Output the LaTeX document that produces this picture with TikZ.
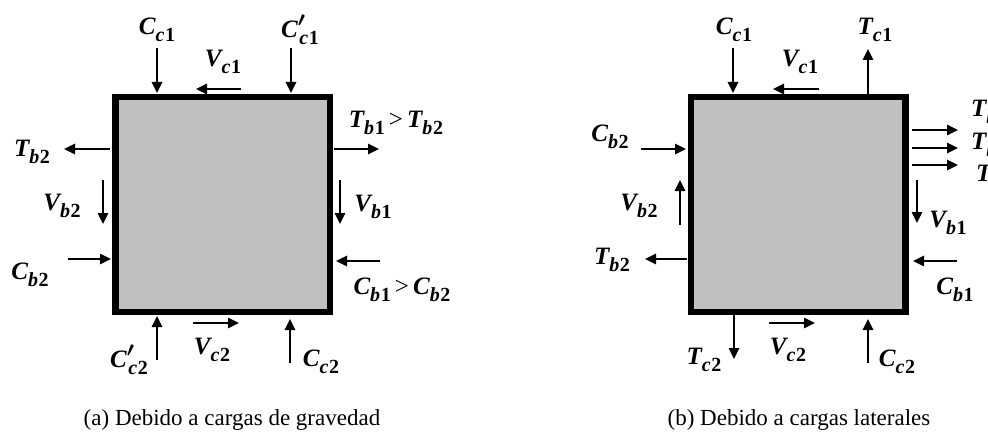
\documentclass[tikz,border=0pt]{standalone}
\usepackage{fontspec}
\setmainfont{Liberation Serif}
\usetikzlibrary{arrows.meta}
\usepackage{amsmath}
\definecolor{boxgray}{HTML}{C0C0C0}
\newcommand\subsz{\fontsize{20}{20}\selectfont}
\newcommand\lbl[3]{\textbf{\textit{#1}}\raisebox{-0.3em}{\subsz\textbf{\textit{#2}\kern0.03em{\upshape #3}}}}
\newcommand\lblp[3]{\textbf{\textit{#1}}\raisebox{0.42em}{\subsz$\boldsymbol{\prime}$}\kern-0.22em\raisebox{-0.3em}{\subsz\textbf{\textit{#2}\kern0.03em{\upshape #3}}}}
\newcommand\gt{\,{\normalfont\fontsize{25}{25}\selectfont >}\,}
\newcommand\force[3]{\coordinate (#1s) at (#2); \coordinate (#1e) at (#3); \draw[forcearrow] (#1s) -- (#1e);}
\tikzset{
  forcearrow/.style={-{Triangle[length=11pt,width=10pt]}, line width=2.5pt, black},
  panel/.style={draw=black, fill=boxgray, line width=6.5pt, minimum width=214.5pt, minimum height=214.5pt, inner sep=0pt},
  lab/.style={inner sep=0pt, font=\fontsize{25}{25}\selectfont\bfseries\itshape},
  captext/.style={inner sep=0pt, font=\fontsize{23}{23}\selectfont},
}
\begin{document}
\begin{tikzpicture}[x=1pt,y=-1pt]
\useasboundingbox (0,0) rectangle (988,433);
\clip (0,0) rectangle (988,433);
\fill[white] (0,0) rectangle (988,433);
% ---------- panel (a) ----------
\node[panel] (boxA) at (222.5,204.5) {};
\node[lab] (aCc1) at (157,30) {\lbl{C}{c}{1}};
\force{aCc1}{157,48}{157,93}
\node[lab] (aCpc1) at (300,30) {\lblp{C}{c}{1}};
\force{aCpc1}{291,48}{291,93}
\node[lab] (aVc1) at (223,62) {\lbl{V}{c}{1}};
\force{aVc1}{241,89}{196,89}
\node[lab] (aTb1) at (396,123) {\lbl{T}{b}{1}\gt\lbl{T}{b}{2}};
\force{aTb1}{334,149}{379,149}
\node[lab] (aTb2) at (32,152) {\lbl{T}{b}{2}};
\force{aTb2}{110,149}{64,149}
\node[lab] (aVb2) at (62,206) {\lbl{V}{b}{2}};
\force{aVb2}{103,180}{103,224}
\node[lab] (aVb1) at (373,207) {\lbl{V}{b}{1}};
\force{aVb1}{340,180}{340,224}
\node[lab] (aCb2) at (30,275) {\lbl{C}{b}{2}};
\force{aCb2}{68,259}{111,259}
\node[lab] (aCb1) at (402,290) {\lbl{C}{b}{1}\gt\lbl{C}{b}{2}};
\force{aCb1}{380,261}{336,261}
\node[lab] (aCpc2) at (129,360) {\lblp{C}{c}{2}};
\force{aCpc2}{157,360}{157,316}
\node[lab] (aVc2) at (212,350) {\lbl{V}{c}{2}};
\force{aVc2}{193,323}{239,323}
\node[lab] (aCc2) at (321,362) {\lbl{C}{c}{2}};
\force{aCc2}{290,363}{290,319}
\node[captext] (capA) at (232,420) {(a) Debido a cargas de gravedad};
% ---------- panel (b) ----------
\node[panel] (boxB) at (798,204.5) {};
\node[lab] (bCc1) at (734,30) {\lbl{C}{c}{1}};
\force{bCc1}{733,48}{733,93}
\node[lab] (bTc1) at (875,30) {\lbl{T}{c}{1}};
\force{bTc1}{868,94}{868,49}
\node[lab] (bVc1) at (800,62) {\lbl{V}{c}{1}};
\force{bVc1}{819,89}{773,89}
\node[lab] (bCb2) at (610,137) {\lbl{C}{b}{2}};
\force{bCb2}{641,149}{686,149}
\force{bTr1}{912,130}{958,130}
\force{bTr2}{912,148}{958,148}
\force{bTr3}{912,165}{958,165}
\node[lab, anchor=west] (bT1) at (971,112) {\lbl{T}{b}{1}};
\node[lab, anchor=west] (bT2) at (971,145) {\lbl{T}{b}{2}};
\node[lab, anchor=west] (bT3) at (976,177) {\lbl{T}{b}{1}};
\node[lab] (bVb2) at (639,206) {\lbl{V}{b}{2}};
\force{bVb2}{680,225}{680,180}
\node[lab] (bVb1) at (948,223) {\lbl{V}{b}{1}};
\force{bVb1}{917,180}{917,223}
\node[lab] (bTb2) at (612,260) {\lbl{T}{b}{2}};
\force{bTb2}{687,259}{645,259}
\node[lab] (bCb1) at (955,290) {\lbl{C}{b}{1}};
\force{bCb1}{957,261}{913,261}
\node[lab] (bTc2) at (704,360) {\lbl{T}{c}{2}};
\force{bTc2}{734,315}{734,359}
\node[lab] (bVc2) at (788,350) {\lbl{V}{c}{2}};
\force{bVc2}{769,323}{815,323}
\node[lab] (bCc2) at (897,362) {\lbl{C}{c}{2}};
\force{bCc2}{868,363}{868,319}
\node[captext] (capB) at (799,420) {(b) Debido a cargas laterales};
\end{tikzpicture}
\end{document}
